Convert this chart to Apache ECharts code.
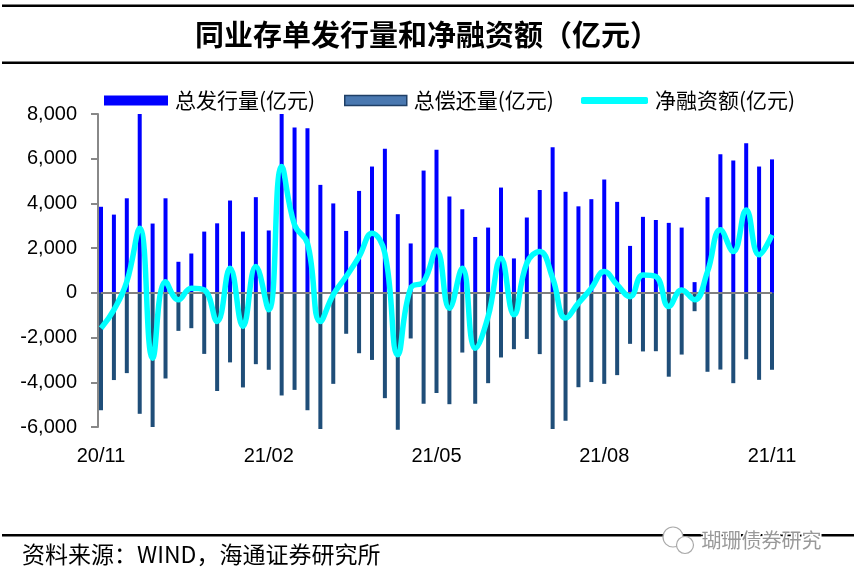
<!DOCTYPE html>
<html>
<head>
<meta charset="utf-8">
<script src="https://cdn.jsdelivr.net/npm/echarts@6/dist/echarts.min.js"></script>
<style>
  html, body { margin: 0; padding: 0; background: #fff; }
  #main { width: 854px; height: 579px; }
</style>
</head>
<body>
<div id="main"></div>
<script>
// weekly dates, 20/11 .. 21/11
const weeks = [
  "2020-11-06", "2020-11-13", "2020-11-20", "2020-11-27", "2020-12-04", "2020-12-11",
  "2020-12-18", "2020-12-25", "2021-01-01", "2021-01-08", "2021-01-15", "2021-01-22",
  "2021-01-29", "2021-02-05", "2021-02-12", "2021-02-19", "2021-02-26", "2021-03-05",
  "2021-03-12", "2021-03-19", "2021-03-26", "2021-04-02", "2021-04-09", "2021-04-16",
  "2021-04-23", "2021-04-30", "2021-05-07", "2021-05-14", "2021-05-21", "2021-05-28",
  "2021-06-04", "2021-06-11", "2021-06-18", "2021-06-25", "2021-07-02", "2021-07-09",
  "2021-07-16", "2021-07-23", "2021-07-30", "2021-08-06", "2021-08-13", "2021-08-20",
  "2021-08-27", "2021-09-03", "2021-09-10", "2021-09-17", "2021-09-24", "2021-10-01",
  "2021-10-08", "2021-10-15", "2021-10-22", "2021-10-29", "2021-11-05"
];

// 总发行量(亿元)
const issue = [
  3850, 3500, 4230, 8000, 3100, 4230, 1390, 1760, 2740, 3110, 4130, 2740, 4280,
  2790, 8000, 7400, 7360, 4830, 4000, 2770, 4560, 5650, 6450, 3520, 2210, 5470,
  6400, 4310, 3740, 2500, 2920, 4710, 1540, 3370, 4600, 6510, 4520, 3870, 4190,
  5070, 4070, 2100, 3400, 3260, 3130, 2920, 480, 4280, 6200, 5920, 6690, 5650, 5970
];

// 总偿还量(亿元)
const repay = [
  -5250, -3900, -3590, -5410, -6000, -3830, -1700, -1580, -2730, -4390, -3110, -4230, -3190,
  -3440, -4590, -4340, -5250, -6090, -4070, -1830, -2700, -3000, -4710, -6120, -2040, -4960,
  -4480, -4980, -2670, -4960, -4040, -2890, -2520, -2060, -2740, -6090, -5720, -4220, -3990,
  -4070, -3680, -2280, -2620, -2610, -3750, -2760, -820, -3530, -3430, -4040, -2970, -3890, -3440
];

// 净融资额(亿元)
const net = [
  -1580, -760, 500, 2890, -2920, 500, -310, 210, 130, -1280, 1100, -1500, 1180,
  -760, 5650, 3040, 2220, -1280, -80, 730, 1620, 2670, 1770, -2770, 210, 500,
  1920, -690, 1100, -2480, -1060, 1550, -980, 1330, 1850, 660, -1130, -460, 210,
  950, 360, -170, 800, 730, -610, 130, -310, 950, 2820, 1850, 3710, 1700, 2590
];

const yTicks = { min: -6000, max: 8000, step: 2000 };

const CJK = '"Noto Sans CJK SC", sans-serif';
const NUM = '"Liberation Sans", Arial, sans-serif';

const chart = echarts.init(document.getElementById("main"));

const legendText = { fontFamily: CJK, fontSize: 21, color: "#000", padding: [0, 0, 0, 2] };

const option = {
  backgroundColor: "#fff",
  animation: false,
  grid: { left: 101, right: 82, top: 114, bottom: 152 },
  legend: [
    {
      left: 104, top: 90, padding: 0, itemWidth: 64, itemHeight: 10, itemGap: 0,
      textStyle: legendText,
      data: [{ name: "总发行量(亿元)", icon: "rect" }]
    },
    {
      left: 344, top: 90, padding: 0, itemWidth: 62, itemHeight: 10, itemGap: 0,
      textStyle: legendText,
      data: [{
        name: "总偿还量(亿元)", icon: "rect",
        itemStyle: { color: "#4a78b0", borderColor: "#1f3f66", borderWidth: 1.5 }
      }]
    },
    {
      left: 581, top: 90, padding: 0, itemWidth: 67, itemHeight: 7, itemGap: 0,
      textStyle: legendText,
      data: [{ name: "净融资额(亿元)", icon: "roundRect", itemStyle: { color: "#00ffff" } }]
    }
  ],
  xAxis: {
    type: "category",
    data: weeks,
    boundaryGap: false,
    axisLine: { show: false, onZero: false },
    axisTick: { show: false },
    axisLabel: {
      interval: 12,
      margin: 19,
      fontFamily: NUM,
      fontSize: 20,
      color: "#000",
      formatter: (d) => d.slice(2, 4) + "/" + d.slice(5, 7)
    },
    splitLine: { show: false }
  },
  yAxis: {
    type: "value",
    min: yTicks.min,
    max: yTicks.max,
    interval: yTicks.step,
    offset: 3,
    axisLine: { show: true, lineStyle: { color: "#888", width: 2 } },
    axisTick: { show: true, inside: false, length: 7, lineStyle: { color: "#888", width: 2 } },
    axisLabel: {
      margin: 21,
      fontFamily: NUM,
      fontSize: 20,
      color: "#000",
      formatter: (v) => v.toLocaleString("en-US")
    },
    splitLine: { show: false }
  },
  series: [
    {
      name: "总发行量(亿元)",
      type: "bar",
      data: issue,
      barWidth: 4,
      barGap: "-100%",
      itemStyle: { color: "#0000ff" },
      markLine: {
        silent: true,
        symbol: "none",
        label: { show: false },
        lineStyle: { color: "#808080", type: "solid", width: 2 },
        data: [{ yAxis: 0 }]
      }
    },
    {
      name: "总偿还量(亿元)",
      type: "bar",
      data: repay,
      barWidth: 4,
      barGap: "-100%",
      clip: false,
      itemStyle: { color: "#1f4e79" }
    },
    {
      name: "净融资额(亿元)",
      type: "line",
      data: net,
      smooth: 0.45,
      symbol: "none",
      z: 5,
      lineStyle: { color: "#00ffff", width: 5.5 },
      itemStyle: { color: "#00ffff" }
    }
  ],
  graphic: [
    { type: "rect", shape: { x: 2, y: 4.5, width: 852, height: 2.5 }, style: { fill: "#000" } },
    { type: "rect", shape: { x: 2, y: 61.5, width: 852, height: 2.5 }, style: { fill: "#000" } },
    { type: "rect", shape: { x: 2, y: 534, width: 852, height: 2.5 }, style: { fill: "#000" } },
    {
      type: "text", left: "center", top: 20,
      style: {
        text: "同业存单发行量和净融资额（亿元）",
        font: 'bold 29px "Noto Sans CJK SC", sans-serif',
        fill: "#000"
      }
    },
    {
      type: "text", left: 22, top: 543,
      style: {
        text: "资料来源：WIND，海通证券研究所",
        font: '23px "Noto Sans CJK SC", sans-serif',
        fill: "#000"
      }
    },
    // watermark
    {
      type: "circle", shape: { cx: 673, cy: 537, r: 10 },
      style: { fill: "#fff", stroke: "#aaa", lineWidth: 1.2 }, z: 100
    },
    {
      type: "circle", shape: { cx: 685, cy: 545, r: 8.5 },
      style: { fill: "#fff", stroke: "#aaa", lineWidth: 1.2 }, z: 101
    },
    {
      type: "text", left: 700, top: 529, z: 100,
      style: {
        text: "瑚珊债券研究",
        font: '20px "Noto Sans CJK SC", sans-serif',
        fill: "#999",
        stroke: "#fff",
        lineWidth: 3
      }
    }
  ]
};

chart.setOption(option);
</script>
</body>
</html>
